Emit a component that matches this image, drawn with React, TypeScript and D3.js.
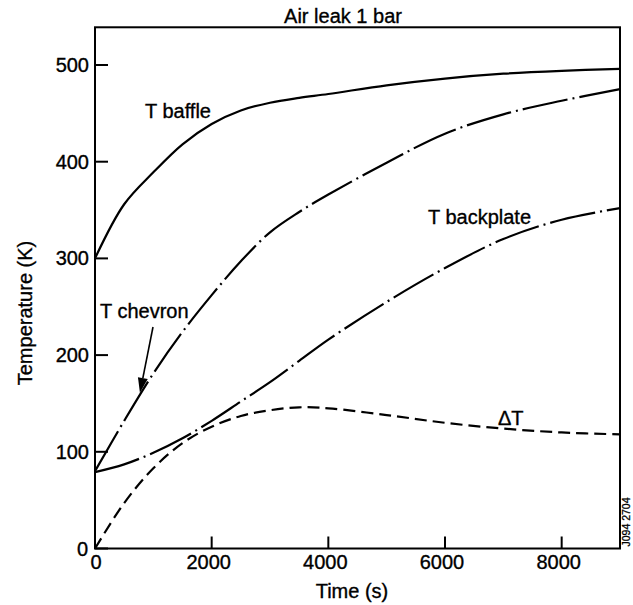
import React from 'react';
import * as d3 from 'd3';

// time grid (s) shared by every curve
const time = [0, 500, 1000, 1500, 2000, 2500, 3000, 3500, 4000, 5000, 6000, 7000, 8000, 9000];

// temperatures (K)
const tBaffle = [300, 356, 389, 418, 439, 453, 461, 466, 470, 479, 486, 491, 494, 496];
const tChevron = [80, 132, 181, 224, 262, 297, 327, 348, 366, 399, 429, 449, 463, 475];
const tBackplate = [79, 87, 99, 114, 132, 152, 172, 194, 216, 255, 290, 320, 340, 352];
const deltaT = [0, 47, 83, 109, 126, 137, 143, 146, 145, 138, 130, 124, 120, 118];

const xTicks = [0, 2000, 4000, 6000, 8000];
const yTicks = [0, 100, 200, 300, 400, 500];

const W = 633, H = 605;
const font = '"Liberation Sans", Arial, Helvetica, sans-serif';

const App = () => {
    const x = d3.scaleLinear().domain([0, 9000]).range([95, 620]);
    const y = d3.scaleLinear().domain([0, 500]).range([548.5, 65]);
    const yTop = y(539);

    const makePath = (vals: number[]) =>
        d3.line<number>()
            .x((_, i) => x(time[i]))
            .y(d => y(d))
            .curve(d3.curveCatmullRom.alpha(0.5))(vals) as string;

    const series = [
        { vals: tBaffle, dash: undefined },
        { vals: tChevron, dash: '46,5,2,5' },
        { vals: tBackplate, dash: '46,5,2,5' },
        { vals: deltaT, dash: '12,6' },
    ];

    // arrow pointing at the chevron curve near t = 770 s
    const tip = [x(770), y(161)];
    const tail = [153, 327];
    const ang = Math.atan2(tip[1] - tail[1], tip[0] - tail[0]);
    const hl = 15, hw = 5;
    const bx = tip[0] - hl * Math.cos(ang), by = tip[1] - hl * Math.sin(ang);
    const head = [
        [tip[0], tip[1]],
        [bx + hw * Math.sin(ang), by - hw * Math.cos(ang)],
        [bx - hw * Math.sin(ang), by + hw * Math.cos(ang)],
    ].map(p => p.join(',')).join(' ');

    const txt = { fontSize: 20, stroke: '#000', strokeWidth: 0.35 };

    return (
        <svg width={W} height={H} style={{ position: 'absolute', left: 0, top: 0, background: '#fff' }}
            fontFamily={font}>
            <rect x={0} y={0} width={W} height={H} fill="#fff" />

            <text x={343} y={23} textAnchor="middle" {...txt}>Air leak 1 bar</text>

            {/* frame */}
            <rect x={x(0)} y={yTop} width={x(9000) - x(0)} height={y(0) - yTop}
                fill="none" stroke="#000" strokeWidth={2} />

            {/* y ticks */}
            {yTicks.map(t => (
                <g key={'y' + t}>
                    <line x1={x(0)} x2={x(0) + 13} y1={y(t)} y2={y(t)} stroke="#000" strokeWidth={2} />
                    <text x={t === 0 ? x(0) - 7 : x(0) - 6} y={y(t)} dy="0.35em"
                        textAnchor="end" {...txt}>{t}</text>
                </g>
            ))}

            {/* x ticks */}
            {xTicks.map(t => (
                <g key={'x' + t}>
                    <line x1={x(t)} x2={x(t)} y1={y(0)} y2={y(0) - 12} stroke="#000" strokeWidth={2} />
                    <text x={t === 0 ? x(0) + 1 : x(t) - 3} y={569} textAnchor="middle" {...txt}>{t}</text>
                </g>
            ))}

            <text x={352} y={598} textAnchor="middle" {...txt}>Time (s)</text>
            <text transform="translate(32,313) rotate(-90)" textAnchor="middle" {...txt}>Temperature (K)</text>

            {/* curves */}
            {series.map((s, i) => (
                <path key={i} d={makePath(s.vals)} fill="none" stroke="#000" strokeWidth={2.2}
                    strokeDasharray={s.dash} />
            ))}

            {/* labels */}
            <text x={145} y={118} {...txt}>T baffle</text>
            <text x={100} y={318} {...txt}>T chevron</text>
            <text x={428} y={224} {...txt}>T backplate</text>
            <text x={498} y={425} {...txt}>ΔT</text>

            <line x1={tail[0]} y1={tail[1]} x2={bx} y2={by} stroke="#000" strokeWidth={1.6} />
            <polygon points={head} fill="#000" />

            <text transform="translate(630,522) rotate(-90)" fontSize={10.5} textAnchor="middle"
                stroke="#000" strokeWidth={0.3}>J094 2704</text>
        </svg>
    );
};

export default App;
